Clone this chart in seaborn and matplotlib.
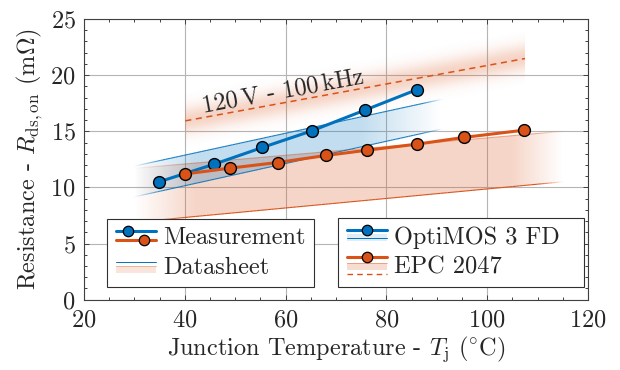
"""
Rds,on versus junction temperature: measurement vs. datasheet
"""
import numpy as np
import matplotlib
matplotlib.use('Agg')
import matplotlib.pyplot as plt
import seaborn as sns
from matplotlib.lines import Line2D
from matplotlib.patches import Rectangle
from matplotlib.collections import LineCollection
from matplotlib.colors import to_rgb

# measured on-state resistance
optimos_temp = [34.9, 45.7, 55.4, 65.2, 75.7, 86.1]
optimos_rds = [10.5, 12.05, 13.56, 15.04, 16.88, 18.72]
epc_temp = [40.1, 49.0, 58.4, 68.1, 76.2, 86.0, 95.3, 107.3]
epc_rds = [11.2, 11.72, 12.22, 12.85, 13.32, 13.85, 14.45, 15.1]

# datasheet ranges (band end points)
optimos_ds_temp = [30, 91]
optimos_ds_low = [9.16, 15.2]
optimos_ds_high = [11.9, 17.85]
epc_ds_temp = [30, 115]
epc_ds_low = [6.9, 10.5]
epc_ds_high = [11.7, 15.0]

# EPC 2047 at 120 V / 100 kHz
epc_120v_temp = [40.1, 107.5]
epc_120v_rds = [15.93, 21.48]

x_ticks = [20, 40, 60, 80, 100, 120]
y_ticks = [0, 5, 10, 15, 20, 25]

BLUE = '#0072BD'
ORANGE = '#D95319'

sns.set_theme(style='ticks')
plt.rcParams['font.family'] = ['serif']
plt.rcParams['font.serif'] = ['cmr10', 'DejaVu Serif']
plt.rcParams['mathtext.fontset'] = 'cm'
plt.rcParams['axes.formatter.use_mathtext'] = True
plt.rcParams['axes.unicode_minus'] = False

FS = 17.5


def fade_ramp(xg, x0, x1, fade_in, fade_out):
    return np.clip((xg - x0) / fade_in, 0, 1) * np.clip((x1 - xg) / fade_out, 0, 1)


def gradient_band(ax, xs, lo, hi, color, alpha, fade_in, fade_out):
    """Fill between two lines with a horizontal alpha fade at both ends"""
    poly = ax.fill_between(xs, lo, hi, facecolor='none', edgecolor='none')
    xg = np.linspace(xs[0], xs[-1], 400)
    img = np.zeros((2, len(xg), 4))
    img[..., :3] = to_rgb(color)
    img[..., 3] = alpha * fade_ramp(xg, xs[0], xs[-1], fade_in, fade_out)
    im = ax.imshow(img, extent=[xs[0], xs[-1], min(lo), max(hi)], aspect='auto',
                   origin='lower', interpolation='bilinear', zorder=1)
    im.set_clip_path(poly.get_paths()[0], ax.transData)


def faded_line(ax, xs, ys, color, lw, alpha, fade_in, fade_out):
    """Thin straight line whose opacity fades towards its ends"""
    xg = np.linspace(xs[0], xs[-1], 120)
    yg = np.interp(xg, xs, ys)
    pts = np.column_stack([xg, yg]).reshape(-1, 1, 2)
    segs = np.concatenate([pts[:-1], pts[1:]], axis=1)
    xm = 0.5 * (xg[:-1] + xg[1:])
    cols = np.zeros((len(xm), 4))
    cols[:, :3] = to_rgb(color)
    cols[:, 3] = alpha * fade_ramp(xm, xs[0], xs[-1], fade_in, fade_out)
    ax.add_collection(LineCollection(segs, colors=cols, linewidths=lw, zorder=2))


def glow(ax, xs, ys, color, alpha, width):
    """Soft vertical glow around a straight line"""
    xg = np.linspace(xs[0], xs[-1], 200)
    yg = np.linspace(min(ys) - 3 * width, max(ys) + 3 * width, 300)
    X, Y = np.meshgrid(xg, yg)
    line = np.interp(X, xs, ys)
    img = np.zeros(X.shape + (4,))
    img[..., :3] = to_rgb(color)
    img[..., 3] = alpha * np.exp(-((Y - line) / width) ** 2)
    ax.imshow(img, extent=[xg[0], xg[-1], yg[0], yg[-1]], aspect='auto',
              origin='lower', interpolation='bilinear', zorder=1)


class DrawnHandle:
    """Legend handler that draws a custom little sketch"""

    def __init__(self, draw):
        self.draw = draw

    def legend_artist(self, legend, orig_handle, fontsize, handlebox):
        x0, y0 = -handlebox.xdescent, -handlebox.ydescent
        artists = self.draw(x0, y0, handlebox.width, handlebox.height)
        for a in artists:
            handlebox.add_artist(a)
        return artists[0]


def marker(x, y, color):
    return Line2D([x], [y], marker='o', ms=7.5, mfc=color, mec='black', mew=0.9, ls='none')


def measurement_handle(x0, y0, w, h):
    return [Line2D([x0, x0 + w], [y0 + 0.75 * h] * 2, color=BLUE, lw=2.2),
            marker(x0 + 0.3 * w, y0 + 0.75 * h, BLUE),
            Line2D([x0, x0 + w], [y0 + 0.25 * h] * 2, color=ORANGE, lw=2.2),
            marker(x0 + 0.7 * w, y0 + 0.25 * h, ORANGE)]


def datasheet_handle(x0, y0, w, h):
    return [Rectangle((x0, y0 + 0.05 * h), w, 0.4 * h, facecolor=ORANGE, alpha=0.15, lw=0),
            Line2D([x0, x0 + w], [y0 + 0.7 * h] * 2, color=BLUE, lw=0.7),
            Line2D([x0, x0 + w], [y0 + 0.45 * h] * 2, color=ORANGE, lw=0.5, alpha=0.5)]


def optimos_handle(x0, y0, w, h):
    return [Line2D([x0, x0 + w], [y0 + 0.85 * h] * 2, color=BLUE, lw=2.2),
            Rectangle((x0, y0 + 0.2 * h), w, 0.4 * h, facecolor=BLUE, alpha=0.12, lw=0),
            Line2D([x0, x0 + w], [y0 + 0.35 * h] * 2, color=BLUE, lw=0.7),
            marker(x0 + 0.5 * w, y0 + 0.85 * h, BLUE)]


def epc_handle(x0, y0, w, h):
    return [Line2D([x0, x0 + w], [y0 + 0.95 * h] * 2, color=ORANGE, lw=2.2),
            Rectangle((x0, y0 + 0.2 * h), w, 0.45 * h, facecolor=ORANGE, alpha=0.2, lw=0),
            Line2D([x0, x0 + w], [y0 + 0.65 * h] * 2, color=ORANGE, lw=0.5, alpha=0.6),
            Line2D([x0, x0 + w], [y0 - 0.05 * h] * 2, color=ORANGE, lw=1, ls=(0, (4, 3))),
            marker(x0 + 0.5 * w, y0 + 0.95 * h, ORANGE)]


fig = plt.figure(figsize=(6.2, 3.7), dpi=100)
ax = fig.add_axes([0.1355, 0.19, 0.8129, 0.7586])

# datasheet bands
gradient_band(ax, epc_ds_temp, epc_ds_low, epc_ds_high, ORANGE, 0.24, 12, 10)
gradient_band(ax, optimos_ds_temp, optimos_ds_low, optimos_ds_high, BLUE, 0.24, 12, 16)
faded_line(ax, epc_ds_temp, epc_ds_low, ORANGE, 0.8, 1.0, 10, 5)
faded_line(ax, epc_ds_temp, epc_ds_high, ORANGE, 0.8, 0.45, 10, 5)
faded_line(ax, optimos_ds_temp, optimos_ds_low, BLUE, 0.8, 0.9, 6, 4)
faded_line(ax, optimos_ds_temp, optimos_ds_high, BLUE, 0.8, 0.9, 6, 4)

# 120 V operating point
glow(ax, epc_120v_temp, epc_120v_rds, ORANGE, 0.25, 1.2)
ax.plot(epc_120v_temp, epc_120v_rds, color=ORANGE, lw=1.1, ls=(0, (4, 3)), zorder=3)
ax.text(59.5, 18.5, r'120$\,$V - 100$\,$kHz', rotation=10.4, rotation_mode='anchor',
        ha='center', va='center', fontsize=FS, zorder=4)

# measurements
sns.lineplot(x=optimos_temp, y=optimos_rds, ax=ax, color=BLUE, lw=2.2, marker='o',
             markersize=8.5, markeredgecolor='black', markeredgewidth=1, zorder=5)
sns.lineplot(x=epc_temp, y=epc_rds, ax=ax, color=ORANGE, lw=2.2, marker='o',
             markersize=8.5, markeredgecolor='black', markeredgewidth=1, zorder=5)

ax.set_xlim(20, 120)
ax.set_ylim(0, 25)
ax.set_xticks(x_ticks)
ax.set_yticks(y_ticks)
ax.set_xticks(np.arange(20, 121, 5), minor=True)
ax.set_yticks(np.arange(0, 26, 1), minor=True)
ax.tick_params(which='both', direction='in', top=True, right=True,
               labelsize=FS, color='#404040', width=0.7)
ax.tick_params(which='major', length=3.5)
ax.tick_params(axis='x', which='major', pad=7)
ax.tick_params(axis='y', which='major', pad=6)
ax.tick_params(which='minor', length=2.5)
ax.grid(True, which='major', color='#b5b5b5', lw=0.8)
ax.set_axisbelow(True)
for s in ax.spines.values():
    s.set_color('#404040')
    s.set_linewidth(0.8)

ax.set_xlabel(r'Junction Temperature - $T_{\mathrm{j}}$ ($^{\circ}$C)', fontsize=FS, labelpad=2)
ax.set_ylabel(r'Resistance - $R_{\mathrm{ds,on}}$ (m$\Omega$)', fontsize=FS, labelpad=4)

# legends
h_meas, h_ds, h_opt, h_epc = Line2D([], []), Line2D([], []), Line2D([], []), Line2D([], [])
leg_kw = dict(fontsize=FS, frameon=True, fancybox=False, framealpha=1, edgecolor='#303030',
              handlelength=1.65, handletextpad=0.3, borderpad=0.35, labelspacing=0.3,
              borderaxespad=0)
leg1 = ax.legend([h_meas, h_ds], ['Measurement', 'Datasheet'], loc='lower left',
                 bbox_to_anchor=(0.046, 0.045),
                 handler_map={h_meas: DrawnHandle(measurement_handle),
                              h_ds: DrawnHandle(datasheet_handle)}, **leg_kw)
leg1.get_frame().set_linewidth(0.8)
ax.add_artist(leg1)
leg2 = ax.legend([h_opt, h_epc], ['OptiMOS 3 FD  ', 'EPC 2047'], loc='lower left',
                 bbox_to_anchor=(0.504, 0.045),
                 handler_map={h_opt: DrawnHandle(optimos_handle),
                              h_epc: DrawnHandle(epc_handle)}, **leg_kw)
leg2.get_frame().set_linewidth(0.8)

fig.savefig('out.png', dpi=100)
